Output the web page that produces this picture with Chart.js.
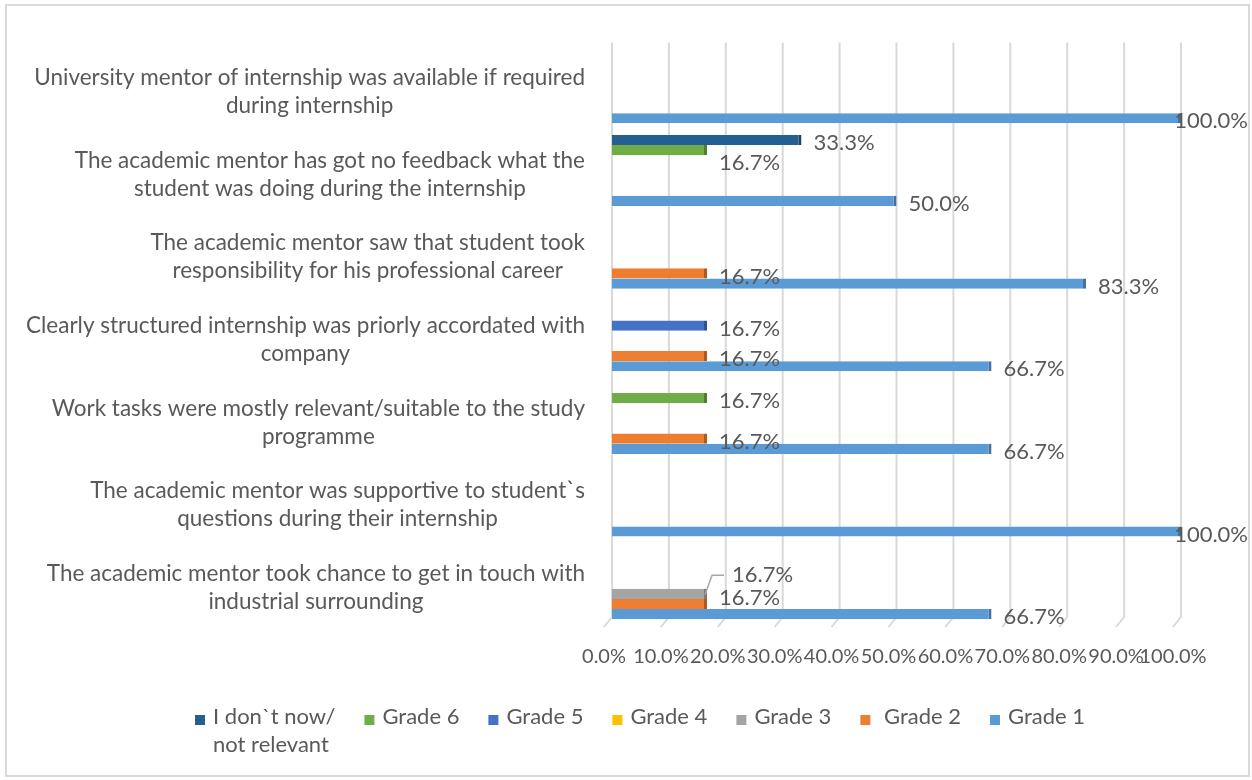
<!DOCTYPE html>
<html>
<head>
<meta charset="utf-8">
<title>Academic mentor during internship</title>
<script src="https://cdn.jsdelivr.net/npm/chart.js@4.4.1/dist/chart.umd.min.js"></script>
<style>
  html, body { margin: 0; padding: 0; background: #fff; }
  canvas { display: block; }
</style>
</head>
<body>
<canvas id="mentorChart" width="1252" height="780"></canvas>
<script>
// Survey statements, top to bottom (already split into the two printed lines)
const categorias = [
    ["University mentor of internship was available if required", "during internship"],
    ["The academic mentor has got no feedback what the", "student was doing during the internship"],
    ["The academic mentor saw that student took", "responsibility for his professional career"],
    ["Clearly structured internship was priorly accordated with", "company"],
    ["Work tasks were mostly relevant/suitable to the study", "programme"],
    ["The academic mentor was supportive to student`s", "questions during their internship"],
    ["The academic mentor took chance to get in touch with", "industrial surrounding"]
];

// Series in legend order (first one is drawn on top inside each group)
const seriesNames = ["I don`t now/\nnot relevant", "Grade 6", "Grade 5", "Grade 4", "Grade 3", " Grade 2", "Grade 1"];

// Share of answers in %, null = nobody picked it
const dontKnow = [null, 33.3, null, null, null, null, null];
const grade6   = [null, 16.7, null, null, 16.7, null, null];
const grade5   = [null, null, null, 16.7, null, null, null];
const grade4   = [null, null, null, null, null, null, null];
const grade3   = [null, null, null, null, null, null, 16.7];
const grade2   = [null, null, 16.7, 16.7, 16.7, null, 16.7];
const grade1   = [100.0, 50.0, 83.3, 66.7, 66.7, 100.0, 66.7];

const valores = [dontKnow, grade6, grade5, grade4, grade3, grade2, grade1];

const colores = ["#255E91", "#70AD47", "#4472C4", "#FFC000", "#A5A5A5", "#ED7D31", "#5B9BD5"];
const bordes  = ["#1B4469", "#507E32", "#2F528F", "#BC8C00", "#787878", "#AE5A21", "#41719C"];

const textColor = "#595959";
const fontFamily = "Lato, 'Open Sans', sans-serif";

// Labels that would collide get pushed a bit ("dataset:category")
const ajustesEtiqueta = {
    "1:1": { dy: 10 },
    "5:6": { dy: -9.5 },
    "4:6": { dx: 13, dy: -21.5, guia: true }
};

// White background + thin grey frame
const marco = {
    id: "marco",
    beforeDraw(chart) {
        const ctx = chart.ctx;
        ctx.save();
        ctx.fillStyle = "#fff";
        ctx.fillRect(0, 0, chart.width, chart.height);
        ctx.strokeStyle = "#d9d9d9";
        ctx.lineWidth = 2;
        ctx.strokeRect(6, 5, chart.width - 9, chart.height - 9);
        ctx.restore();
    }
};

// Vertical gridlines with the little slanted foot at the bottom
const rejilla = {
    id: "rejilla",
    beforeDatasetsDraw(chart) {
        const { ctx, chartArea, scales: { x } } = chart;
        ctx.save();
        ctx.strokeStyle = "#d9d9d9";
        ctx.lineWidth = 2;
        x.ticks.forEach(t => {
            const px = x.getPixelForValue(t.value);
            ctx.beginPath();
            ctx.moveTo(px, chartArea.top - 4);
            ctx.lineTo(px, chartArea.bottom - 8);
            ctx.lineTo(px - 8, chartArea.bottom + 2);
            ctx.stroke();
        });
        ctx.restore();
    }
};

// Category text on the left: block right-aligned to the plot, lines centred
const etiquetasCategoria = {
    id: "etiquetasCategoria",
    afterDraw(chart) {
        const { ctx, chartArea, scales: { y } } = chart;
        ctx.save();
        ctx.font = `22.5px ${fontFamily}`;
        ctx.fillStyle = textColor;
        ctx.textAlign = "center";
        ctx.textBaseline = "middle";
        const derecha = chartArea.left - 27;
        const alto = 28;
        chart.data.labels.forEach((lineas, i) => {
            const ancho = Math.max(...lineas.map(l => ctx.measureText(l).width));
            const cx = derecha - ancho / 2;
            const cy = y.getPixelForValue(i) + 4;
            lineas.forEach((l, k) => {
                ctx.fillText(l, cx, cy + (k - (lineas.length - 1) / 2) * alto);
            });
        });
        ctx.restore();
    }
};

// Value labels at the end of each bar
const etiquetasValor = {
    id: "etiquetasValor",
    afterDatasetsDraw(chart) {
        const ctx = chart.ctx;
        ctx.save();
        ctx.font = `22px ${fontFamily}`;
        ctx.fillStyle = textColor;
        ctx.textAlign = "left";
        ctx.textBaseline = "middle";
        chart.data.datasets.forEach((ds, d) => {
            const meta = chart.getDatasetMeta(d);
            meta.data.forEach((bar, i) => {
                const v = ds.data[i];
                if (v === null) return;
                const texto = v.toFixed(1) + "%";
                const w = ctx.measureText(texto).width;
                const aj = ajustesEtiqueta[`${d}:${i}`] || {};
                const tx = Math.min(bar.x + 12, chart.width - 4 - w) + (aj.dx || 0);
                const ty = bar.y + 3 + (aj.dy || 0);
                if (aj.guia) {
                    ctx.save();
                    ctx.strokeStyle = "#a6a6a6";
                    ctx.lineWidth = 1.5;
                    ctx.beginPath();
                    ctx.moveTo(bar.x - 2, bar.y + 1);
                    ctx.lineTo(bar.x + 5, ty);
                    ctx.lineTo(tx - 8, ty);
                    ctx.stroke();
                    ctx.restore();
                }
                ctx.fillText(texto, tx, ty);
            });
        });
        ctx.restore();
    }
};

// Legend under the plot, first entry wraps onto two lines
const leyenda = {
    id: "leyenda",
    afterDraw(chart) {
        const ctx = chart.ctx;
        ctx.save();
        ctx.font = `22px ${fontFamily}`;
        ctx.textAlign = "left";
        ctx.textBaseline = "middle";
        const items = chart.data.datasets.map(ds => {
            const lineas = ds.label.split("\n");
            return { lineas, color: ds.backgroundColor, ancho: Math.max(...lineas.map(l => ctx.measureText(l).width)) };
        });
        const cuadro = 10, sep = 8, hueco = 29;
        const total = items.reduce((s, it) => s + cuadro + sep + it.ancho, 0) + hueco * (items.length - 1);
        let x = 640 - total / 2;
        const y0 = 717;
        items.forEach(it => {
            ctx.fillStyle = it.color;
            ctx.fillRect(x, y0 - 2, cuadro, cuadro);
            ctx.fillStyle = textColor;
            it.lineas.forEach((l, k) => ctx.fillText(l, x + cuadro + sep, y0 + k * 28));
            x += cuadro + sep + it.ancho + hueco;
        });
        ctx.restore();
    }
};

new Chart(document.getElementById("mentorChart"), {
    type: "bar",
    data: {
        labels: categorias,
        datasets: seriesNames.map((name, k) => ({
            label: name,
            data: valores[k],
            backgroundColor: colores[k],
            borderColor: bordes[k],
            borderWidth: { top: 0, right: 3, bottom: 0, left: 0 }
        }))
    },
    options: {
        indexAxis: "y",
        responsive: false,
        animation: false,
        devicePixelRatio: 1,
        layout: { padding: { left: 612, right: 71, top: 46.5, bottom: 91 } },
        datasets: { bar: { categoryPercentage: 0.86, barPercentage: 1 } },
        plugins: { legend: { display: false }, tooltip: { enabled: false } },
        scales: {
            x: {
                min: 0,
                max: 100,
                grid: { display: false, drawTicks: false },
                border: { display: false },
                ticks: {
                    stepSize: 10,
                    callback: v => v.toFixed(1) + "%",
                    font: { family: fontFamily, size: 20 },
                    color: textColor,
                    padding: 20,
                    labelOffset: -8,
                    maxRotation: 0,
                    minRotation: 0,
                    autoSkip: false
                }
            },
            y: { display: false }
        }
    },
    plugins: [marco, rejilla, etiquetasCategoria, etiquetasValor, leyenda]
});
</script>
</body>
</html>
